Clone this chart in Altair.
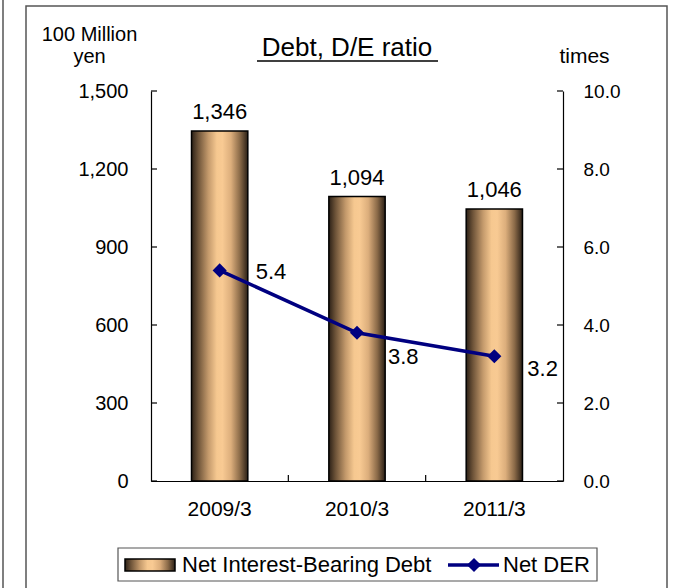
import altair as alt
import pandas as pd

# ---- data ----
categories = ["2009/3", "2010/3", "2011/3"]
debt = [1346, 1094, 1046]          # 100 Million yen
der = [5.4, 3.8, 3.2]              # times
left_ticks = [0, 300, 600, 900, 1200, 1500]
right_ticks = [0.0, 2.0, 4.0, 6.0, 8.0, 10.0]
legend_labels = ["Net Interest-Bearing Debt", "Net DER"]
title_text = "Debt, D/E ratio"

df = pd.DataFrame({"cat": categories, "debt": debt, "der": der})
one = pd.DataFrame({"a": [0]})

FONT = "Liberation Sans"
NAVY = "#000080"
W, H = 412, 390

grad = alt.Gradient(
    gradient="linear",
    x1=0, x2=1, y1=0, y2=0,
    stops=[
        alt.GradientStop(color="#2b2016", offset=0),
        alt.GradientStop(color="#6e5439", offset=0.12),
        alt.GradientStop(color="#c49a6c", offset=0.3),
        alt.GradientStop(color="#f6c890", offset=0.45),
        alt.GradientStop(color="#f8ca93", offset=0.55),
        alt.GradientStop(color="#dcae7c", offset=0.7),
        alt.GradientStop(color="#8a6a48", offset=0.86),
        alt.GradientStop(color="#2b2016", offset=1),
    ],
)

xenc = alt.X(
    "cat:N", sort=categories,
    scale=alt.Scale(paddingInner=0.59, paddingOuter=0.295),
    axis=alt.Axis(title=None, labelAngle=0, ticks=False, domainColor="black",
                  domainWidth=1.2, labelFontSize=21, labelPadding=17,
                  labelColor="black", labelFont=FONT),
)

lscale = alt.Scale(domain=[0, 1500], nice=False, zero=True)
rscale = alt.Scale(domain=[0, 10], nice=False, zero=True)

laxis = alt.Axis(orient="left", values=left_ticks, format=",.0f",
                 ticks=False, grid=False, domainColor="black",
                 domainWidth=1.2, labelFontSize=20, labelPadding=23,
                 labelColor="black", labelFont=FONT,
                 title=["100 Million", "yen"], titleAngle=0,
                 titleAlign="center", titleBaseline="alphabetic",
                 titleX=-62, titleY=-51, titleFontSize=20,
                 titleFontWeight="normal", titleFont=FONT,
                 titleLineHeight=22, titleColor="black")
raxis = alt.Axis(orient="right", values=right_ticks, format=".1f",
                 ticks=False, grid=False, domainColor="black",
                 domainWidth=1.2, labelFontSize=19, labelPadding=20,
                 labelColor="black", labelFont=FONT,
                 title="times", titleAngle=0, titleAlign="center",
                 titleBaseline="alphabetic", titleX=21, titleY=-29,
                 titleFontSize=21, titleFontWeight="normal",
                 titleFont=FONT, titleColor="black")

base = alt.Chart(df)

bars = base.mark_bar(color=grad, stroke="black", strokeWidth=1.5).encode(
    x=xenc,
    y=alt.Y("debt:Q", scale=lscale, axis=laxis),
)
bar_labels = base.mark_text(fontSize=22, font=FONT, dy=-12, baseline="alphabetic",
                            color="black").encode(
    x=alt.X("cat:N", sort=categories),
    y=alt.Y("debt:Q", scale=lscale, axis=laxis),
    text=alt.Text("debt:Q", format=","),
)
left = alt.layer(bars, bar_labels)

line = base.mark_line(color=NAVY, strokeWidth=3.5).encode(
    x=alt.X("cat:N", sort=categories),
    y=alt.Y("der:Q", scale=rscale, axis=raxis),
)
points = base.mark_point(shape="diamond", filled=True, size=200, color=NAVY,
                         opacity=1).encode(
    x=alt.X("cat:N", sort=categories),
    y=alt.Y("der:Q", scale=rscale, axis=raxis),
)
der_offsets = {"2009/3": (36, 9), "2010/3": (31, 31), "2011/3": (33, 20)}
der_labels = []
for c, (dx, dy) in der_offsets.items():
    der_labels.append(
        base.transform_filter(alt.datum.cat == c)
        .mark_text(fontSize=22, font=FONT, align="left", baseline="alphabetic",
                   dx=dx, dy=dy, color="black")
        .encode(x=alt.X("cat:N", sort=categories),
                y=alt.Y("der:Q", scale=rscale, axis=raxis),
                text=alt.Text("der:Q", format=".1f"))
    )
right = alt.layer(line, points, *der_labels)

lt_df = pd.DataFrame({"v": left_ticks})
rt_df = pd.DataFrame({"v": right_ticks})

# ---- decorations: frame, title, category ticks, legend ----
dec = alt.Chart(one)
frame = dec.mark_rect(fill=None, stroke="#555555", strokeWidth=1.5).encode(
    x=alt.value(-125), x2=alt.value(516), y=alt.value(-85), y2=alt.value(520))
left_edge = dec.mark_rule(color="#555555", strokeWidth=1.5).encode(
    x=alt.value(-148), y=alt.value(-100), y2=alt.value(520))
title = dec.mark_text(fontSize=26, font=FONT, color="black",
                      baseline="alphabetic").encode(
    x=alt.value(196), y=alt.value(-35), text=alt.value(title_text))
underline = dec.mark_rule(color="black", strokeWidth=1.3).encode(
    x=alt.value(106), x2=alt.value(287), y=alt.value(-30))
cat_ticks = [
    dec.mark_rule(color="black", strokeWidth=1.2).encode(
        x=alt.value(W / 3 * k), y=alt.value(H - 6), y2=alt.value(H))
    for k in (1, 2)
]
leg_box = dec.mark_rect(fill="white", stroke="#555555", strokeWidth=1.2).encode(
    x=alt.value(-33), x2=alt.value(446), y=alt.value(457), y2=alt.value(490))
leg_swatch = dec.mark_rect(color=grad, stroke="black", strokeWidth=1.5).encode(
    x=alt.value(-26), x2=alt.value(24), y=alt.value(468), y2=alt.value(480))
leg_t1 = dec.mark_text(fontSize=22, font=FONT, align="left", baseline="alphabetic",
                       color="black").encode(
    x=alt.value(31), y=alt.value(481), text=alt.value(legend_labels[0]))
leg_line = dec.mark_rule(color=NAVY, strokeWidth=3.5).encode(
    x=alt.value(297), x2=alt.value(348), y=alt.value(474))
leg_pt = dec.mark_point(shape="diamond", filled=True, size=200, color=NAVY,
                        opacity=1).encode(x=alt.value(323), y=alt.value(474))
leg_t2 = dec.mark_text(fontSize=22, font=FONT, align="left", baseline="alphabetic",
                       color="black").encode(
    x=alt.value(352), y=alt.value(481), text=alt.value(legend_labels[1]))

ltick_layer = alt.Chart(lt_df).mark_rule(color="black", strokeWidth=1.2).encode(
    y=alt.Y("v:Q", scale=lscale, axis=None), x=alt.value(0), x2=alt.value(6))
rtick_layer = alt.Chart(rt_df).mark_rule(color="black", strokeWidth=1.2).encode(
    y=alt.Y("v:Q", scale=rscale, axis=None), x=alt.value(W - 6), x2=alt.value(W))

chart = (
    alt.layer(frame, left_edge, left, right, ltick_layer, rtick_layer,
              title, underline, *cat_ticks,
              leg_box, leg_swatch, leg_t1, leg_line, leg_pt, leg_t2)
    .resolve_scale(y="independent")
    .properties(
        width=W, height=H,
        autosize=alt.AutoSizeParams(type="none"),
        padding={"left": 151, "top": 91, "right": 115, "bottom": 107},
        background="white",
    )
    .configure_view(stroke=None)
)

chart.save("out.html", embed_options={"renderer": "svg", "actions": False})
